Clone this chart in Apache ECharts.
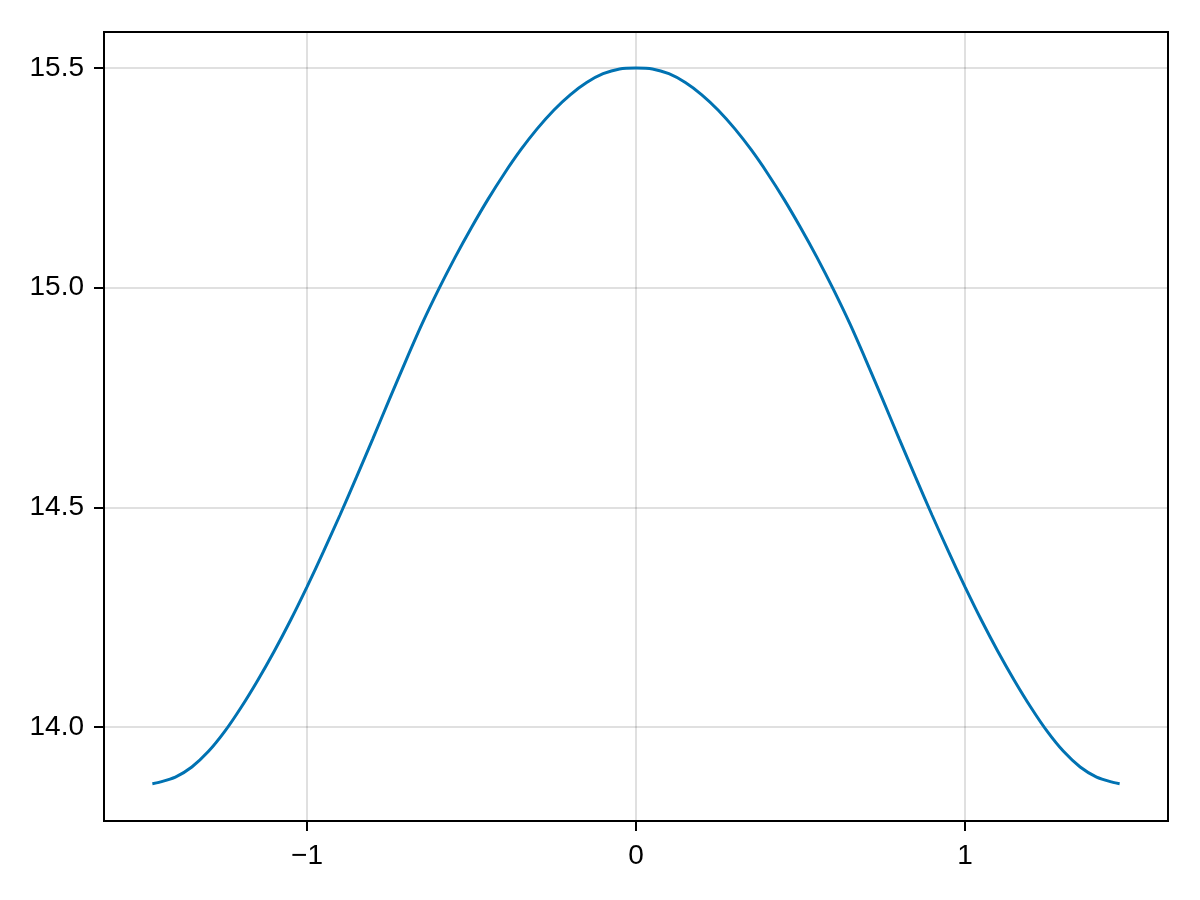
<!DOCTYPE html>
<html>
<head>
<meta charset="utf-8">
<script src="https://cdn.jsdelivr.net/npm/echarts@6/dist/echarts.min.js"></script>
<style>html,body{margin:0;padding:0;background:#fff}#c{width:1200px;height:900px}</style>
</head>
<body>
<div id="c"></div>
<script>
const xValues = [-1.47, -1.45, -1.4, -1.35, -1.3, -1.25, -1.2, -1.15, -1.1, -1.05, -1.0, -0.95, -0.9, -0.85, -0.8,
                 -0.75, -0.7, -0.65, -0.6, -0.55, -0.5, -0.45, -0.4, -0.35, -0.3, -0.25, -0.2, -0.15, -0.1, -0.05, 0,
                 0.05, 0.1, 0.15, 0.2, 0.25, 0.3, 0.35, 0.4, 0.45, 0.5, 0.55, 0.6, 0.65, 0.7, 0.75,
                 0.8, 0.85, 0.9, 0.95, 1.0, 1.05, 1.1, 1.15, 1.2, 1.25, 1.3, 1.35, 1.4, 1.45, 1.47];
const yValues = [13.871, 13.874, 13.886, 13.909, 13.944, 13.990, 14.045, 14.106, 14.172, 14.243, 14.319, 14.399, 14.482, 14.568, 14.656,
                 14.745, 14.833, 14.918, 14.996, 15.069, 15.137, 15.201, 15.260, 15.314, 15.362, 15.404, 15.439, 15.467, 15.487, 15.498, 15.5,
                 15.498, 15.487, 15.467, 15.439, 15.404, 15.362, 15.314, 15.260, 15.201, 15.137, 15.069, 14.996, 14.918, 14.833, 14.745,
                 14.656, 14.568, 14.482, 14.399, 14.319, 14.243, 14.172, 14.106, 14.045, 13.990, 13.944, 13.909, 13.886, 13.874, 13.871];
const xTicks = [-1, 0, 1];
const yTicks = [14.0, 14.5, 15.0, 15.5];
const xRange = [-1.617, 1.617];
const yRange = [13.786, 15.582];

const data = xValues.map((x, i) => [x, yValues[i]]);
const font = '"Liberation Sans", Arial, Helvetica, sans-serif';
const chart = echarts.init(document.getElementById('c'));
chart.setOption({
  animation: false,
  backgroundColor: '#fff',
  grid: { left: 104, right: 32, top: 32, bottom: 79, show: true, borderColor: '#000', borderWidth: 2, backgroundColor: 'transparent' },
  xAxis: {
    type: 'value', min: xRange[0], max: xRange[1],
    axisLine: { show: true, onZero: false, lineStyle: { color: '#000', width: 2 } },
    axisTick: { show: true, inside: false, length: 10, customValues: xTicks, lineStyle: { color: '#000', width: 2 } },
    axisLabel: { customValues: xTicks, margin: 21, fontSize: 28, color: '#000', fontFamily: font,
      formatter: v => String(v).replace('-', '\u2212') },
    splitLine: { show: true, lineStyle: { color: 'rgba(0,0,0,0.12)', width: 2 } }
  },
  yAxis: {
    type: 'value', min: yRange[0], max: yRange[1],
    axisLine: { show: true, onZero: false, lineStyle: { color: '#000', width: 2 } },
    axisTick: { show: true, inside: false, length: 10, customValues: yTicks, lineStyle: { color: '#000', width: 2 } },
    axisLabel: { customValues: yTicks, margin: 20, fontSize: 28, color: '#000', fontFamily: font,
      formatter: v => Number(v).toFixed(1) },
    splitLine: { show: true, lineStyle: { color: 'rgba(0,0,0,0.12)', width: 2 } }
  },
  series: [{
    type: 'line', data: data, showSymbol: false, smooth: 0.25,
    lineStyle: { color: '#0072B2', width: 3 }
  }]
});
</script>
</body>
</html>
